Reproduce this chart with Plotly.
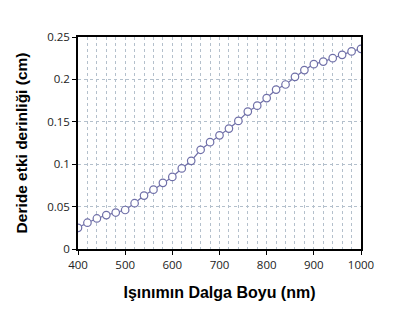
import plotly.graph_objects as go

wavelength = [400, 420, 440, 460, 480, 500, 520, 540, 560, 580, 600, 620, 640, 660, 680,
              700, 720, 740, 760, 780, 800, 820, 840, 860, 880, 900, 920, 940, 960, 980, 1000]
depth = [0.025, 0.031, 0.036, 0.040, 0.043, 0.046, 0.054, 0.063, 0.070, 0.078, 0.085,
         0.095, 0.104, 0.117, 0.126, 0.134, 0.142, 0.151, 0.162, 0.169, 0.178, 0.188,
         0.194, 0.203, 0.211, 0.218, 0.221, 0.225, 0.229, 0.233, 0.236]

x_title = "Işınımın Dalga Boyu (nm)"
y_title = "Deride etki derinliği (cm)"

grid_col = "#b4c0cc"
line_col = "#6f6fa8"

fig = go.Figure(go.Scatter(
    x=wavelength, y=depth, mode="lines+markers",
    line=dict(color=line_col, width=1.2),
    marker=dict(symbol="circle", size=7.5, color="white",
                line=dict(color=line_col, width=1.2)),
    showlegend=False,
))

fig.update_layout(
    width=400, height=333,
    margin=dict(l=68, r=47, t=29, b=92),
    paper_bgcolor="white", plot_bgcolor="white",
    font=dict(family="Open Sans, DejaVu Sans, sans-serif", size=11.5, color="#222"),
)
fig.update_xaxes(
    range=[400, 1000], tickvals=[400, 500, 600, 700, 800, 900, 1000],
    showline=True, linecolor="black", linewidth=1.5, mirror=True,
    ticks="outside", ticklen=4, tickcolor="black",
    showgrid=True, gridcolor=grid_col, griddash="dot", gridwidth=1,
    minor=dict(dtick=20, showgrid=True, gridcolor=grid_col, griddash="dot", gridwidth=1),
    zeroline=False,
    title=dict(text=x_title, font=dict(family="Liberation Sans, Arial, sans-serif",
                                      size=16, color="black", weight="bold"), standoff=16),
)
fig.update_yaxes(
    range=[0, 0.25], tickvals=[0, 0.05, 0.1, 0.15, 0.2, 0.25],
    ticktext=["0", "0.05", "0.1", "0.15", "0.2", "0.25"],
    showline=True, linecolor="black", linewidth=1.5, mirror=True,
    ticks="outside", ticklen=4, tickcolor="black",
    showgrid=True, gridcolor=grid_col, griddash="dot", gridwidth=1,
    zeroline=False,
    title=dict(text=y_title, font=dict(family="Liberation Sans, Arial, sans-serif",
                                      size=15.5, color="black", weight="bold"), standoff=16),
)

fig.write_html("out.html")
